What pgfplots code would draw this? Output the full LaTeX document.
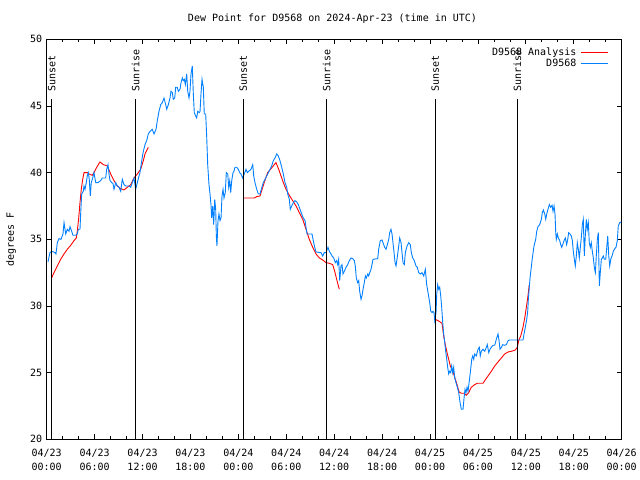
\documentclass[border=0pt]{standalone}
\usepackage{fontspec}
\setmainfont{DejaVu Sans Mono}
\usepackage{pgfplots}
\pgfplotsset{compat=1.18}
\definecolor{obsblue}{RGB}{0,128,255}
\begin{document}
\begin{tikzpicture}
\path[use as bounding box] (0,0) rectangle (640bp,480bp);
\begin{axis}[
 at={(46.7bp,40.7bp)}, anchor=south west,
 scale only axis, width=575bp, height=400bp,
 xmin=0, xmax=72, ymin=20, ymax=50,
 xtick={0,6,...,72},
 xticklabels={{04/23\\00:00},{04/23\\06:00},{04/23\\12:00},{04/23\\18:00},{04/24\\00:00},{04/24\\06:00},{04/24\\12:00},{04/24\\18:00},{04/25\\00:00},{04/25\\06:00},{04/25\\12:00},{04/25\\18:00},{04/26\\00:00}},
 minor x tick num=2,
 ytick={20,25,...,50},
 tick align=inside,
 major tick length=5bp, minor tick length=3bp,
 every tick/.style={black, line width=0.8bp},
 axis line style={line width=0.8bp},
 font=\fontsize{10bp}{12bp}\selectfont,
 xticklabel style={align=center, font=\fontsize{10bp}{14bp}\selectfont, yshift=-6bp},
 yticklabel style={font=\fontsize{10bp}{12bp}\selectfont, xshift=-1bp},
 /pgf/number format/assume math mode=true,
 every axis title shift=0pt,
 title={Dew Point for D9568 on 2024-Apr-23 (time in UTC)},
 title style={at={(axis description cs:0.497,1.051)}, anchor=center, font=\fontsize{10bp}{12bp}\selectfont},
 ylabel={degrees F},
 ylabel style={at={(axis description cs:-0.062,0.5)}, anchor=center, font=\fontsize{10bp}{12bp}\selectfont},
 legend style={at={(0.983,0.99)}, anchor=north east, draw=none, fill=none,
   font=\fontsize{10bp}{12bp}\selectfont, row sep=-2bp, nodes={inner xsep=4.5bp}},
 legend plot pos=right,
 legend cell align=right,
 legend image code/.code={\draw[#1] (0bp,0bp) -- (27bp,0bp);},
 unbounded coords=jump,
]
\addplot[red, line width=0.9bp] coordinates {
(0.58,32.05) (0.91,32.5) (1.33,33.0) (1.75,33.5) (2.17,33.9) (2.58,34.25) (3.01,34.55) (3.42,34.9) (3.71,35.1) (3.83,35.6) (4.01,36.6) (4.17,37.75) (4.33,38.75) (4.51,39.5) (4.67,40.0) (5.08,40.0) (5.30,39.9) (5.71,39.8) (5.92,40.0) (6.26,40.4) (6.67,40.8) (7.09,40.6) (7.59,40.5) (8.01,39.9) (8.43,39.4) (8.84,39.0) (9.27,38.8) (9.68,38.7) (10.09,38.9) (10.52,39.1) (10.93,39.6) (11.35,39.9) (11.77,40.25) (12.10,40.9) (12.31,41.4) (12.72,41.9)
(12.8,nan)
(24.62,38.1) (26.00,38.1) (26.30,38.2) (26.71,38.25) (27.05,38.9) (27.37,39.5) (27.67,40.0) (28.09,40.3) (28.43,40.55) (28.71,40.75) (29.05,40.25) (29.34,39.75) (29.63,39.25) (29.97,38.75) (30.38,38.3) (30.80,37.9) (31.22,37.5) (31.63,37.0) (32.06,36.5) (32.47,35.75) (32.88,35.0) (33.31,34.4) (33.72,33.9) (34.14,33.6) (34.56,33.45) (34.97,33.25) (35.39,33.2) (35.81,33.1) (36.06,32.6) (36.35,31.9) (36.64,31.25)
(36.7,nan)
(48.66,29.0) (49.00,28.9) (49.50,28.7) (49.71,27.75) (49.91,27.1) (50.13,26.5) (50.34,26.0) (50.54,25.5) (50.75,25.25) (50.96,24.9) (51.17,24.5) (51.38,24.1) (51.63,23.55) (51.92,23.45) (52.26,23.45) (52.54,23.3) (52.84,23.5) (53.17,23.9) (53.59,24.1) (53.92,24.2) (54.63,24.2) (54.85,24.4) (55.26,24.75) (55.67,25.1) (56.10,25.5) (56.51,25.8) (56.93,26.1) (57.35,26.4) (57.77,26.55) (58.18,26.6) (58.68,26.7) (58.93,26.9) (59.10,27.4) (59.36,27.75) (59.64,28.4) (59.86,29.1) (60.06,29.9) (60.23,30.6) (60.43,31.6)
};
\addlegendentry{D9568 Analysis}
\addplot[obsblue, line width=0.9bp] coordinates {
(0.16,33.3) (0.41,34.0) (0.66,34.1) (1.04,34.0) (1.16,33.9) (1.33,34.75) (1.54,35.05) (1.79,35.0) (2.04,35.4) (2.17,36.25) (2.38,35.4) (2.58,35.75) (2.79,35.6) (2.92,35.95) (3.13,35.6) (3.29,35.3) (3.63,35.3) (3.83,35.4) (3.96,35.75) (4.17,35.75) (4.26,37.0) (4.38,38.4) (4.58,38.6) (4.67,39.0) (4.80,38.75) (4.96,39.25) (5.08,39.75) (5.21,40.0) (5.33,39.5) (5.46,38.25) (5.58,39.25) (5.76,39.6) (5.92,40.0) (6.14,39.25) (6.42,39.25) (6.76,39.4) (6.96,39.6) (7.39,39.6) (7.51,40.25) (7.68,40.6) (7.80,39.9) (7.93,39.4) (8.14,39.25) (8.30,39.2) (8.43,38.75) (8.64,39.25) (8.84,39.0) (9.05,38.9) (9.27,38.6) (9.47,39.5) (9.68,39.1) (9.89,39.0) (10.31,39.0) (10.52,38.9) (10.72,39.25) (10.93,39.6) (11.14,38.75) (11.35,39.25) (11.56,39.75) (11.68,40.0) (11.90,40.9) (12.10,41.6) (12.31,42.1) (12.52,42.4) (12.72,42.9) (12.94,43.1) (13.22,43.25) (13.44,42.9) (13.69,43.25) (13.85,43.9) (14.06,44.6) (14.28,45.1) (14.48,45.25) (14.69,45.6) (14.90,45.1) (15.03,44.75) (15.23,45.1) (15.44,45.6) (15.56,46.1) (15.73,46.0) (15.85,45.5) (16.03,45.6) (16.15,46.4) (16.35,46.4) (16.48,46.1) (16.69,46.25) (16.82,46.75) (16.98,47.1) (17.10,46.9) (17.23,47.0) (17.36,46.6) (17.53,47.4) (17.66,46.1) (17.82,45.6) (17.94,46.1) (18.07,47.4) (18.23,48.0) (18.36,45.9) (18.48,44.5) (18.66,44.25) (18.78,44.1) (18.91,44.6) (19.11,44.5) (19.20,44.6) (19.32,45.9) (19.45,47.0) (19.61,46.4) (19.73,44.4) (19.91,44.4) (20.04,42.6) (20.16,40.6) (20.32,39.1) (20.45,38.4) (20.57,37.6) (20.66,36.6) (20.79,37.5) (20.91,36.1) (21.04,38.0) (21.16,37.25) (21.24,35.25) (21.32,34.5) (21.45,36.4) (21.57,36.9) (21.70,36.4) (21.83,36.6) (21.95,38.25) (22.08,38.75) (22.20,38.1) (22.36,38.5) (22.49,40.0) (22.67,39.9) (22.79,38.9) (22.92,39.4) (23.04,38.5) (23.17,39.4) (23.33,40.0) (23.45,40.1) (23.58,40.4) (23.79,40.4) (23.99,40.25) (24.17,40.0) (24.33,39.9) (24.54,39.6) (24.74,39.9) (24.96,40.25) (25.12,40.0) (25.30,40.1) (25.58,40.25) (25.80,40.6) (25.92,39.75) (26.08,39.25) (26.30,38.75) (26.50,38.4) (26.71,38.4) (26.87,38.75) (27.12,39.25) (27.34,39.5) (27.55,39.75) (27.75,40.0) (27.96,40.25) (28.17,40.5) (28.38,40.9) (28.59,41.1) (28.80,41.4) (29.00,41.25) (29.21,40.9) (29.43,40.4) (29.63,39.9) (29.84,39.25) (30.05,38.9) (30.18,38.4) (30.38,38.0) (30.50,37.25) (30.68,37.5) (30.88,37.75) (31.09,37.9) (31.31,37.8) (31.51,37.6) (31.72,37.25) (31.93,36.9) (32.13,36.6) (32.35,36.4) (32.47,35.9) (32.60,35.4) (33.22,35.4) (33.38,34.9) (33.56,34.4) (33.72,34.05) (34.35,34.0) (34.56,33.75) (34.76,34.0) (34.97,34.0) (35.22,34.4) (35.39,34.1) (35.60,33.9) (35.73,33.75) (35.94,33.6) (36.14,33.25) (36.31,33.4) (36.44,33.1) (36.56,33.5) (36.69,31.9) (36.85,33.0) (36.98,33.1) (37.10,32.4) (37.27,32.6) (37.48,32.9) (37.69,33.1) (37.89,33.4) (38.11,33.6) (38.32,33.55) (38.52,33.4) (38.64,33.0) (38.77,32.1) (38.94,31.75) (39.07,31.9) (39.19,31.1) (39.36,30.5) (39.48,30.75) (39.61,31.25) (39.77,31.75) (39.90,32.25) (40.02,32.1) (40.20,32.4) (40.32,32.25) (40.45,32.5) (40.61,32.75) (40.73,33.1) (40.86,33.5) (41.45,33.55) (41.57,34.25) (41.77,34.9) (41.99,34.95) (42.20,34.6) (42.32,34.4) (42.49,34.25) (42.61,34.5) (42.83,35.0) (42.95,35.5) (43.11,35.75) (43.24,35.4) (43.45,34.25) (43.62,33.25) (43.74,33.0) (43.86,33.5) (44.08,34.5) (44.20,35.1) (44.37,34.75) (44.49,34.0) (44.62,33.25) (44.78,33.1) (44.91,34.0) (45.12,34.5) (45.33,34.75) (45.53,34.6) (45.66,34.0) (45.83,33.6) (46.03,33.4) (46.24,33.0) (46.41,32.9) (46.58,32.5) (46.78,32.4) (47.00,32.5) (47.21,32.25) (47.41,32.75) (47.58,31.6) (47.75,31.0) (47.96,30.25) (48.09,29.6) (48.25,29.5) (48.37,29.6) (48.50,29.5) (48.59,28.9) (48.75,29.5) (48.84,30.9) (48.96,31.6) (49.09,31.25) (49.21,31.4) (49.34,30.75) (49.46,29.9) (49.59,28.75) (49.71,27.9) (49.84,27.25) (49.96,26.6) (50.09,26.0) (50.21,25.4) (50.34,24.9) (50.46,25.1) (50.59,25.0) (50.71,25.5) (50.84,25.0) (50.96,25.4) (51.09,24.6) (51.25,24.25) (51.42,23.9) (51.59,23.5) (51.76,22.75) (51.92,22.25) (52.13,22.25) (52.26,23.1) (52.38,23.75) (52.51,23.5) (52.63,23.9) (52.76,23.6) (52.92,24.4) (53.09,25.25) (53.22,26.0) (53.34,26.25) (53.47,26.0) (53.59,26.4) (53.79,26.25) (54.01,26.75) (54.17,26.9) (54.29,26.25) (54.42,26.6) (54.63,26.75) (54.85,26.6) (55.05,26.9) (55.17,27.1) (55.35,26.5) (55.51,26.75) (55.67,26.9) (55.89,27.05) (56.10,27.05) (56.30,27.5) (56.51,27.9) (56.64,27.4) (56.76,26.75) (56.93,26.9) (57.10,27.1) (57.35,27.05) (57.55,27.1) (57.77,27.4) (57.98,27.45) (59.64,27.45) (59.77,27.9) (59.93,28.4) (60.11,29.0) (60.23,29.6) (60.31,30.5) (60.52,32.1) (60.68,32.9) (60.81,33.6) (61.02,34.5) (61.23,35.0) (61.36,35.6) (61.52,35.95) (61.73,36.1) (61.94,36.5) (62.06,37.0) (62.19,37.2) (62.36,36.9) (62.49,36.5) (62.61,36.9) (62.77,37.25) (62.94,37.6) (63.11,37.4) (63.28,37.55) (63.40,37.1) (63.53,37.5) (63.65,36.9) (63.74,35.5) (63.81,35.0) (63.94,35.4) (64.06,35.1) (64.24,34.9) (64.36,34.6) (64.49,34.4) (64.61,34.6) (64.78,34.9) (64.94,35.1) (65.11,34.6) (65.24,35.0) (65.36,35.5) (65.53,35.4) (65.69,35.25) (65.82,34.9) (65.94,34.1) (66.07,33.5) (66.19,33.0) (66.32,33.75) (66.44,34.75) (66.57,34.25) (66.69,33.6) (66.82,34.4) (66.94,35.1) (67.07,36.1) (67.19,36.5) (67.32,33.75) (67.44,35.25) (67.57,36.5) (67.69,35.75) (67.82,36.25) (67.94,34.75) (68.07,34.4) (68.19,34.75) (68.32,34.1) (68.45,33.6) (68.57,32.9) (68.70,32.5) (68.82,33.75) (68.95,35.0) (69.07,35.5) (69.20,31.5) (69.32,32.5) (69.45,33.5) (69.57,33.6) (69.70,33.75) (69.82,33.5) (70.00,33.5) (70.13,34.4) (70.25,35.25) (70.38,33.75) (70.50,33.0) (70.63,33.5) (70.79,33.75) (70.95,34.1) (71.13,34.3) (71.29,34.4) (71.45,34.9) (71.57,36.0) (71.75,36.25) (71.95,36.3)
};
\addlegendentry{D9568}
\addplot[black, line width=0.8bp, forget plot] coordinates {(0.63,20) (0.63,45.5) (0.7,nan) (11.14,20) (11.14,45.5) (11.2,nan) (24.62,20) (24.62,45.5) (24.7,nan) (35.06,20) (35.06,45.5) (35.1,nan) (48.66,20) (48.66,45.5) (48.7,nan) (58.93,20) (58.93,45.5)};
\node[rotate=90, anchor=west, inner sep=0pt, font=\fontsize{10bp}{12bp}\selectfont] at (axis cs:0.63,46.05) {Sunset};
\node[rotate=90, anchor=west, inner sep=0pt, font=\fontsize{10bp}{12bp}\selectfont] at (axis cs:11.14,46.05) {Sunrise};
\node[rotate=90, anchor=west, inner sep=0pt, font=\fontsize{10bp}{12bp}\selectfont] at (axis cs:24.62,46.05) {Sunset};
\node[rotate=90, anchor=west, inner sep=0pt, font=\fontsize{10bp}{12bp}\selectfont] at (axis cs:35.06,46.05) {Sunrise};
\node[rotate=90, anchor=west, inner sep=0pt, font=\fontsize{10bp}{12bp}\selectfont] at (axis cs:48.66,46.05) {Sunset};
\node[rotate=90, anchor=west, inner sep=0pt, font=\fontsize{10bp}{12bp}\selectfont] at (axis cs:58.93,46.05) {Sunrise};
\end{axis}
\end{tikzpicture}
\end{document}
